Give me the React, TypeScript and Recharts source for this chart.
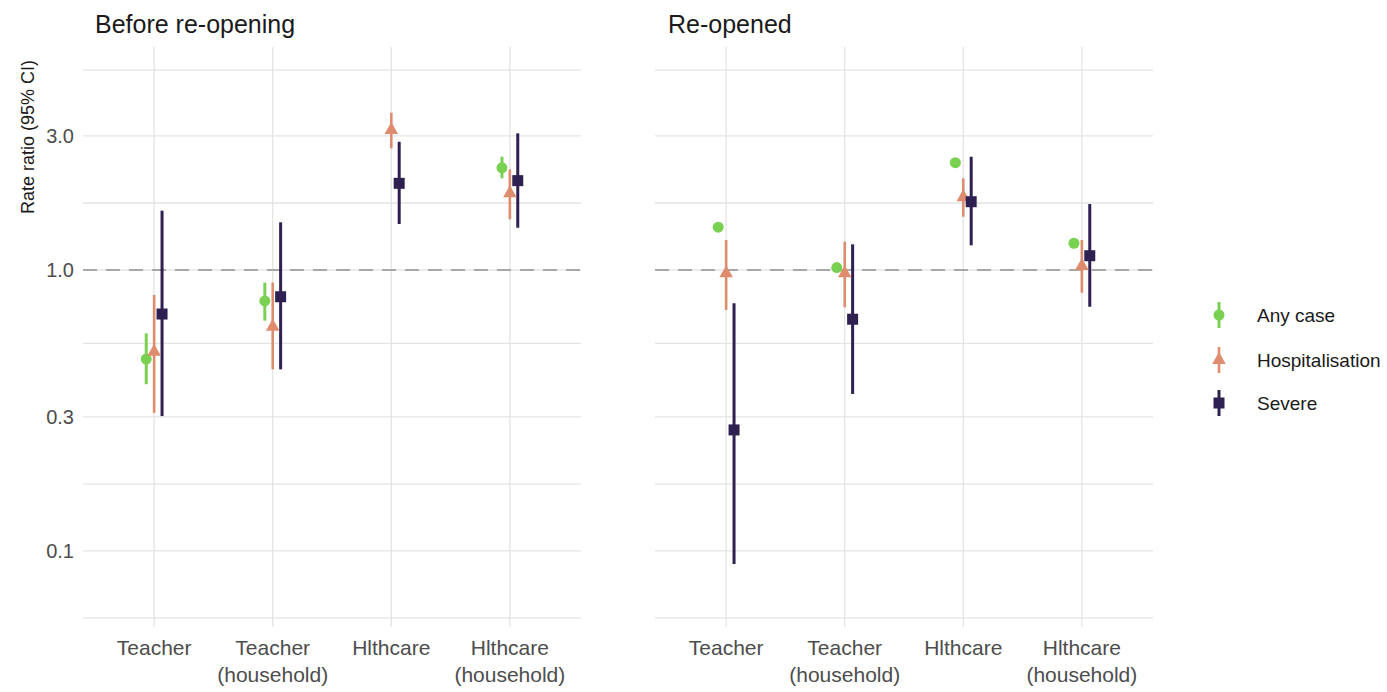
import {
  ComposedChart,
  ErrorBar,
  ReferenceLine,
  Scatter,
  XAxis,
  YAxis,
} from 'recharts';

const categories = ['Teacher', 'Teacher\n(household)', 'Hlthcare', 'Hlthcare\n(household)'];
const seriesNames = ['Any case', 'Hospitalisation', 'Severe'];
const seriesColors = ['#7AD151', '#DE8B6E', '#2E2151'];

const yTicks = [0.1, 0.3, 1, 3];
const yGrid = [0.0578, 0.1, 0.173, 0.3, 0.548, 1, 1.732, 3, 5.15];

// Before re-opening
const beforeAnyEst = [0.482, 0.776, null, 2.31];
const beforeAnyLo = [0.392, 0.66, null, 2.12];
const beforeAnyHi = [0.595, 0.902, null, 2.53];
const beforeHospEst = [0.512, 0.628, 3.15, 1.875];
const beforeHospLo = [0.31, 0.443, 2.71, 1.515];
const beforeHospHi = [0.815, 0.902, 3.63, 2.28];
const beforeSevEst = [0.697, 0.803, 2.035, 2.08];
const beforeSevLo = [0.302, 0.443, 1.458, 1.414];
const beforeSevHi = [1.626, 1.478, 2.86, 3.065];

// Re-opened
const reopenAnyEst = [1.42, 1.02, 2.41, 1.245];
const reopenAnyLo = [1.38, 0.99, 2.35, 1.21];
const reopenAnyHi = [1.46, 1.05, 2.47, 1.28];
const reopenHospEst = [0.973, 0.973, 1.814, 1.033];
const reopenHospLo = [0.721, 0.737, 1.548, 0.83];
const reopenHospHi = [1.279, 1.261, 2.12, 1.279];
const reopenSevEst = [0.2696, 0.668, 1.75, 1.124];
const reopenSevLo = [0.0899, 0.362, 1.224, 0.74];
const reopenSevHi = [0.761, 1.234, 2.53, 1.717];

type Row = { x: number; y: number; err: [number, number] };

const DODGE = 0.2;

function buildSeries(si: number, est: (number | null)[], lo: (number | null)[], hi: (number | null)[]): Row[] {
  const offset = (si - 1) * (DODGE / 3);
  const rows: Row[] = [];
  est.forEach((v, i) => {
    if (v == null) return;
    rows.push({ x: i + 1 + offset, y: v, err: [v - (lo[i] as number), (hi[i] as number) - v] });
  });
  return rows;
}

const beforeData = [
  buildSeries(0, beforeAnyEst, beforeAnyLo, beforeAnyHi),
  buildSeries(1, beforeHospEst, beforeHospLo, beforeHospHi),
  buildSeries(2, beforeSevEst, beforeSevLo, beforeSevHi),
];
const reopenData = [
  buildSeries(0, reopenAnyEst, reopenAnyLo, reopenAnyHi),
  buildSeries(1, reopenHospEst, reopenHospLo, reopenHospHi),
  buildSeries(2, reopenSevEst, reopenSevLo, reopenSevHi),
];

const FONT = '"Liberation Sans", Arial, sans-serif';
const GRID = '#e4e4e4';

function Marker({ kind, cx, cy, fill }: { kind: number; cx: number; cy: number; fill: string }) {
  if (cx == null || cy == null) return null;
  if (kind === 0) return <circle cx={cx} cy={cy} r={5.5} fill={fill} />;
  if (kind === 1) {
    const h = 12;
    const w = 13.5;
    const pts = `${cx},${cy - (2 * h) / 3} ${cx - w / 2},${cy + h / 3} ${cx + w / 2},${cy + h / 3}`;
    return <polygon points={pts} fill={fill} />;
  }
  return <rect x={cx - 5.5} y={cy - 5.5} width={11} height={11} fill={fill} />;
}

function XTick(props: any) {
  const { x, y, payload } = props;
  const lines = categories[payload.value - 1].split('\n');
  return (
    <g>
      {lines.map((l, i) => (
        <text key={i} x={x} y={y + 28 + i * 27} textAnchor="middle" fontSize={21} fill="#4d4d4d" fontFamily={FONT}>
          {l}
        </text>
      ))}
    </g>
  );
}

function YTick(props: any) {
  const { y, payload } = props;
  return (
    <text x={74} y={y} dy={7} textAnchor="end" fontSize={20} fill="#4d4d4d" fontFamily={FONT}>
      {payload.value.toFixed(1)}
    </text>
  );
}

function Panel({ data, showY, left, marginLeft }: { data: Row[][]; showY: boolean; left: number; marginLeft: number }) {
  return (
    <div style={{ position: 'absolute', left, top: 0 }}>
      <ComposedChart width={600} height={692} margin={{ top: 47, right: 600 - marginLeft - 498, bottom: 0, left: showY ? 0 : marginLeft }}>
        <XAxis
          type="number"
          dataKey="x"
          domain={[0.4, 4.6]}
          ticks={[1, 2, 3, 4]}
          allowDataOverflow
          axisLine={false}
          tickLine={false}
          tickSize={0}
          tickMargin={0}
          height={65}
          tick={<XTick />}
          interval={0}
        />
        <YAxis
          type="number"
          dataKey="y"
          scale="log"
          domain={[0.0536, 6.22]}
          ticks={yTicks}
          allowDataOverflow
          axisLine={false}
          tickLine={false}
          width={showY ? 83 : 0}
          hide={!showY}
          tick={<YTick />}
          interval={0}
        />
        {yGrid.map((v) => (
          <ReferenceLine key={`h${v}`} y={v} stroke={GRID} strokeWidth={1.3} />
        ))}
        {[1, 2, 3, 4].map((v) => (
          <ReferenceLine key={`v${v}`} x={v} stroke={GRID} strokeWidth={1.3} />
        ))}
        <ReferenceLine y={1} stroke="#a8a8a8" strokeWidth={2} strokeDasharray="14 9" />
        {data.map((rows, si) => (
          <Scatter
            key={seriesNames[si]}
            name={seriesNames[si]}
            data={rows}
            fill={seriesColors[si]}
            isAnimationActive={false}
            shape={(p: any) => <Marker kind={si} cx={p.cx} cy={p.cy} fill={seriesColors[si]} />}
          >
            <ErrorBar
              dataKey="err"
              direction="y"
              width={0}
              stroke={seriesColors[si]}
              strokeWidth={si === 1 ? 2.6 : 3}
              isAnimationActive={false}
            />
          </Scatter>
        ))}
      </ComposedChart>
    </div>
  );
}

function Overlay() {
  const keyY = [315, 360, 403];
  return (
    <svg width={1387} height={692} style={{ position: 'absolute', left: 0, top: 0, pointerEvents: 'none' }} fontFamily={FONT}>
      <text x={95} y={33} fontSize={25} fill="#1a1a1a">Before re-opening</text>
      <text x={668} y={33} fontSize={25} fill="#1a1a1a">Re-opened</text>
      <text
        x={28}
        y={137}
        fontSize={18}
        fill="#1a1a1a"
        textAnchor="middle"
        dominantBaseline="central"
        transform="rotate(-90 28 137)"
      >
        Rate ratio (95% CI)
      </text>
      {seriesNames.map((n, i) => (
        <g key={n}>
          <line x1={1219} x2={1219} y1={keyY[i] - 13} y2={keyY[i] + 13} stroke={seriesColors[i]} strokeWidth={i === 1 ? 2.6 : 3} />
          <Marker kind={i} cx={1219} cy={keyY[i]} fill={seriesColors[i]} />
          <text x={1257} y={keyY[i] + 7} fontSize={19} fill="#1a1a1a">{n}</text>
        </g>
      ))}
    </svg>
  );
}

export default function App() {
  return (
    <div style={{ position: 'absolute', left: 0, top: 0, width: 1387, height: 692, background: '#fff', fontFamily: FONT, overflow: 'hidden' }}>
      <Panel data={beforeData} showY left={0} marginLeft={83} />
      <Panel data={reopenData} showY={false} left={600} marginLeft={55} />
      <Overlay />
    </div>
  );
}
